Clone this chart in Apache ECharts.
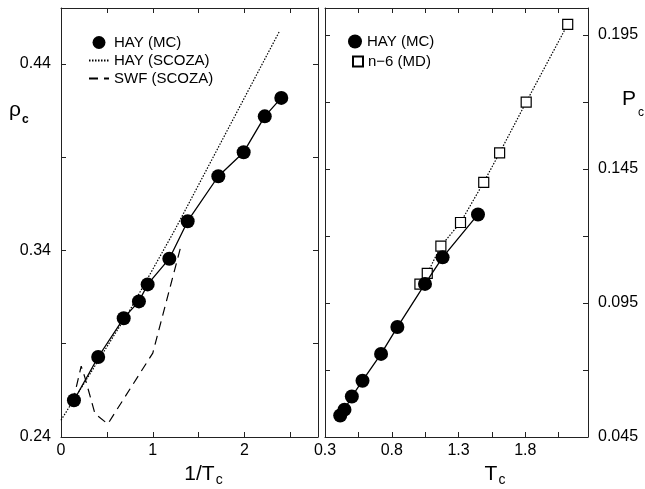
<!DOCTYPE html>
<html>
<head>
<meta charset="utf-8">
<script src="https://cdn.jsdelivr.net/npm/echarts@6/dist/echarts.min.js"></script>
<style>
  html, body { margin: 0; background: #fff; }
  #chart { width: 645px; height: 489px; }
</style>
</head>
<body>
<div id="chart"></div>
<script>
// left panel: rho_c against 1/Tc
const hayInvT = [0.141, 0.405, 0.683, 0.849, 0.944, 1.18, 1.38, 1.714, 1.99, 2.22, 2.40];
const hayRho = [0.2597, 0.2829, 0.3037, 0.3127, 0.3218, 0.3356, 0.3557, 0.3798, 0.3927, 0.4119, 0.4218];
const scozaHayInvT = [0, 0.4, 0.75, 1.24, 1.8, 2.38];
const scozaHayRho = [0.249, 0.2805, 0.308, 0.351, 0.4033, 0.4575];
const scozaSwfInvT = [0.13, 0.22, 0.26, 0.37, 0.51, 1.0, 1.31];
const scozaSwfRho = [0.259, 0.278, 0.272, 0.2525, 0.247, 0.285, 0.343];

// right panel: Pc against Tc
const hayTc = [0.414, 0.446, 0.501, 0.581, 0.720, 0.842, 1.049, 1.181, 1.446];
const hayPc = [0.0530, 0.0552, 0.0601, 0.0660, 0.0760, 0.0860, 0.1021, 0.1120, 0.1280];
const mdTc = [1.011, 1.066, 1.168, 1.315, 1.489, 1.608, 1.807, 2.118];
const mdPc = [0.102, 0.106, 0.1162, 0.125, 0.140, 0.151, 0.1699, 0.1989];

// tick labels
const leftXLabels = ['0', '1', '2'];
const leftYLabels = ['0.24', '0.34', '0.44'];
const rightXLabels = ['0.3', '0.8', '1.3', '1.8'];
const rightYLabels = ['0.045', '0.095', '0.145', '0.195'];

const font = 'Liberation Sans, Arial, Helvetica, sans-serif';
const zip = (xs, ys) => xs.map((x, i) => [x, ys[i]]);

const pick = (labels, digits) => v => {
  const s = String(+v.toFixed(digits));
  const t = v.toFixed(digits);
  if (labels.includes(s)) return s;
  if (labels.includes(t)) return t;
  return '';
};

// one value axis; mirrored copies carry only the frame and ticks
const axis = (grid, pos, min, max, interval, labels, digits, extra) => Object.assign({
  type: 'value',
  gridIndex: grid,
  position: pos,
  min: min,
  max: max,
  interval: interval,
  axisLine: { show: true, onZero: false, lineStyle: { color: '#222', width: 1 } },
  axisTick: { show: true, inside: true, length: 5, lineStyle: { color: '#222', width: 1 } },
  splitLine: { show: false },
  axisLabel: labels ? {
    show: true, color: '#000', fontSize: 16, fontFamily: font,
    margin: (pos === 'left' || pos === 'right') ? 10 : 6,
    formatter: pick(labels, digits)
  } : { show: false }
}, extra || {});

const nameRich = {
  n: { fontSize: 21, fontFamily: font, color: '#000', verticalAlign: 'top' },
  s: { fontSize: 14, fontFamily: font, color: '#000', verticalAlign: 'bottom', padding: [9, 0, 0, 1] }
};

const legendText = { color: '#000', fontSize: 15, fontFamily: font };
const noSymbol = { opacity: 0 };

const chart = echarts.init(document.getElementById('chart'));

chart.setOption({
  animation: false,
  backgroundColor: '#fff',
  grid: [
    { left: 61, right: 327, top: 8, bottom: 52, outerBoundsMode: 'none' },
    { left: 325, right: 57, top: 8, bottom: 52, outerBoundsMode: 'none' }
  ],
  xAxis: [
    axis(0, 'bottom', 0, 2.8, 0.5, leftXLabels, 2, {
      name: '{n|1/T}{s|c}', nameLocation: 'middle', nameGap: 20,
      nameTextStyle: { padding: [0, 0, 0, 28], rich: nameRich }
    }),
    axis(0, 'top', 0, 2.8, 0.5, null),
    axis(1, 'bottom', 0.3, 2.27, 0.25, rightXLabels, 2, {
      name: '{n|T}{s|c}', nameLocation: 'middle', nameGap: 20,
      nameTextStyle: { padding: [0, 0, 0, 77], rich: nameRich }
    }),
    axis(1, 'top', 0.3, 2.27, 0.25, null)
  ],
  yAxis: [
    axis(0, 'left', 0.24, 0.47, 0.05, leftYLabels, 2),
    axis(0, 'right', 0.24, 0.47, 0.05, null),
    axis(1, 'right', 0.045, 0.205, 0.025, rightYLabels, 3),
    axis(1, 'left', 0.045, 0.205, 0.025, null)
  ],
  legend: [
    {
      orient: 'vertical', left: 88, top: 35, padding: 0,
      itemWidth: 20, itemHeight: 13, itemGap: 3,
      textStyle: legendText,
      data: [
        { name: 'HAY (MC)', icon: 'circle' },
        { name: 'HAY (SCOZA)', itemStyle: noSymbol },
        { name: 'SWF (SCOZA)', itemStyle: noSymbol }
      ],
      selectedMode: false
    },
    {
      orient: 'vertical', left: 348, top: 34, padding: 0,
      itemWidth: 14, itemHeight: 14,
      textStyle: legendText,
      data: [{ name: 'HAY (MC)', icon: 'circle' }],
      selectedMode: false
    },
    {
      orient: 'vertical', left: 352, top: 54, padding: 0,
      itemWidth: 10, itemHeight: 10,
      textStyle: legendText,
      data: [{ name: 'n\u22126 (MD)', icon: 'rect' }],
      selectedMode: false
    }
  ],
  graphic: [
    {
      type: 'text', left: 9, top: 100,
      style: {
        text: '{p|\u03c1}{s|c}',
        rich: {
          p: { fontSize: 21, fontFamily: font, fill: '#000', verticalAlign: 'top' },
          s: { fontSize: 12, fontWeight: 'bold', fontFamily: font, fill: '#000', verticalAlign: 'bottom', padding: [14, 0, 0, 1] }
        }
      }
    },
    {
      type: 'text', left: 622, top: 89,
      style: {
        text: '{p|P}{s|c}',
        rich: {
          p: { fontSize: 21, fontFamily: font, fill: '#000', verticalAlign: 'top' },
          s: { fontSize: 12, fontFamily: font, fill: '#000', verticalAlign: 'bottom', padding: [18, 0, 0, 2] }
        }
      }
    }
  ],
  series: [
    {
      name: 'HAY (SCOZA)', type: 'line', xAxisIndex: 0, yAxisIndex: 0,
      data: zip(scozaHayInvT, scozaHayRho), symbol: 'none',
      itemStyle: { color: '#000' },
      lineStyle: { color: '#000', width: 1.2, type: [1.5, 1.5] }, z: 2
    },
    {
      name: 'SWF (SCOZA)', type: 'line', xAxisIndex: 0, yAxisIndex: 0,
      data: zip(scozaSwfInvT, scozaSwfRho), symbol: 'none',
      itemStyle: { color: '#000' },
      lineStyle: { color: '#000', width: 1.2, type: [9, 6] }, z: 2
    },
    {
      name: 'hay fit', type: 'line', xAxisIndex: 0, yAxisIndex: 0,
      data: zip(hayInvT, hayRho), symbol: 'none',
      lineStyle: { color: '#000', width: 1.3 }, z: 3
    },
    {
      name: 'HAY (MC)', type: 'scatter', xAxisIndex: 0, yAxisIndex: 0,
      data: zip(hayInvT, hayRho), symbol: 'circle', symbolSize: 14,
      itemStyle: { color: '#000', opacity: 1 }, z: 5
    },
    {
      name: 'md line', type: 'line', xAxisIndex: 2, yAxisIndex: 2,
      data: zip(mdTc, mdPc), symbol: 'none',
      lineStyle: { color: '#000', width: 1.2, type: [1.5, 1.5] }, z: 2
    },
    {
      name: 'n\u22126 (MD)', type: 'scatter', xAxisIndex: 2, yAxisIndex: 2,
      data: zip(mdTc, mdPc), symbol: 'rect', symbolSize: 10,
      itemStyle: { color: '#fff', borderColor: '#000', borderWidth: 1.2, opacity: 1 }, z: 3
    },
    {
      name: 'hay fit r', type: 'line', xAxisIndex: 2, yAxisIndex: 2,
      data: zip(hayTc, hayPc), symbol: 'none',
      lineStyle: { color: '#000', width: 1.3 }, z: 4
    },
    {
      name: 'HAY (MC)', type: 'scatter', xAxisIndex: 2, yAxisIndex: 2,
      data: zip(hayTc, hayPc), symbol: 'circle', symbolSize: 14,
      itemStyle: { color: '#000', opacity: 1 }, z: 5
    }
  ]
});
</script>
</body>
</html>
